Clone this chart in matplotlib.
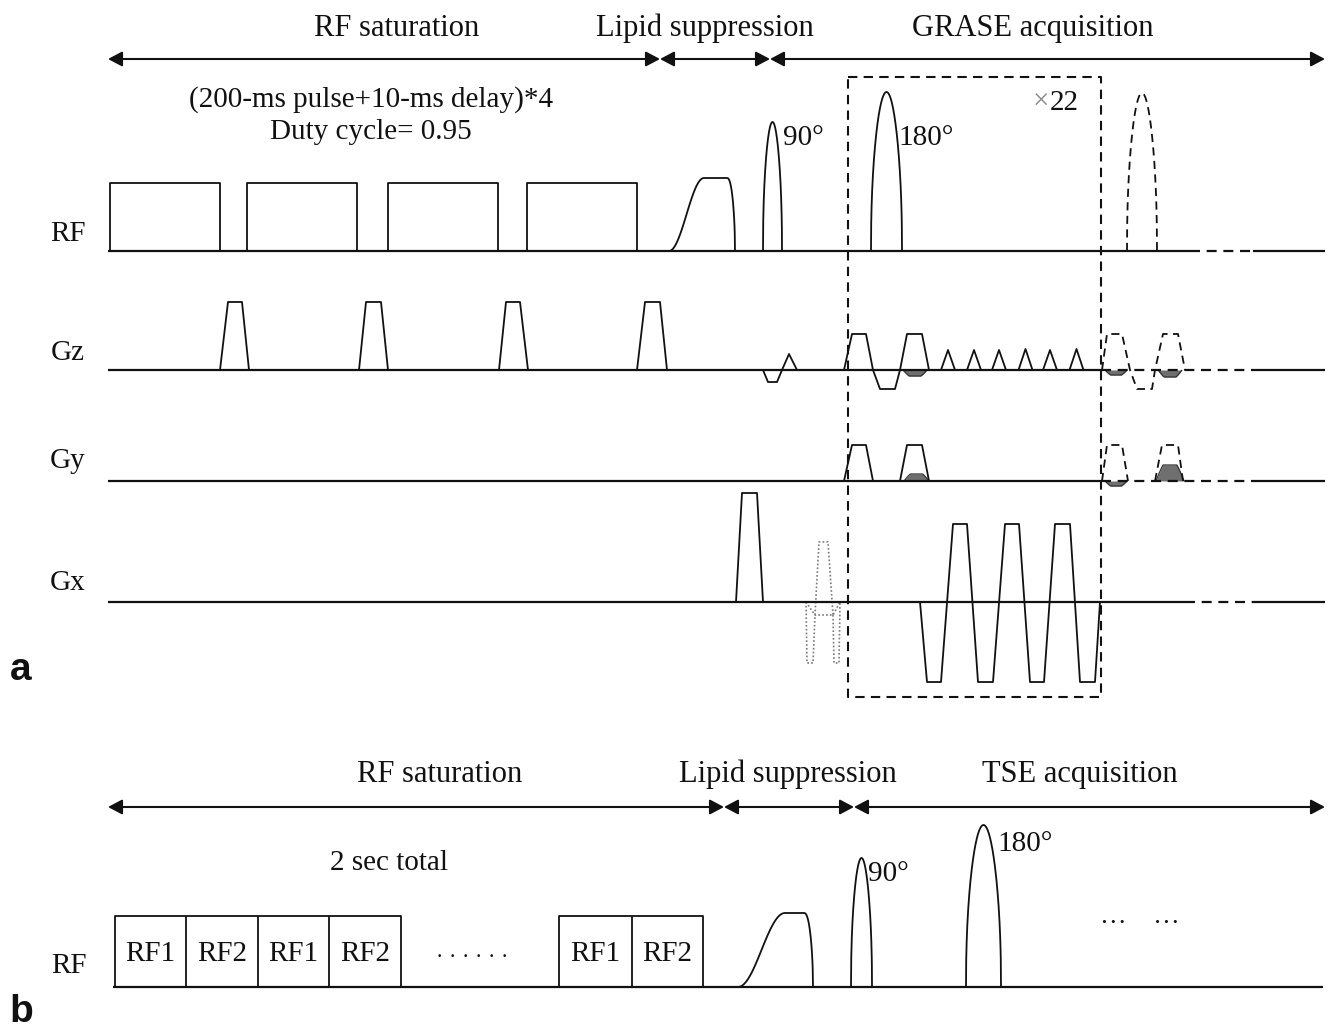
import numpy as np
import matplotlib
matplotlib.use("Agg")
import matplotlib.pyplot as plt

# ---------------- data (diagram time axis / amplitude units) ----------------
# Panel a : phases
phase_labels_a = ["RF saturation", "Lipid suppression", "GRASE acquisition"]
phase_bounds_a = [108, 660, 770, 1325]
phase_label_x_a = [397, 705, 1033]
# Panel a : RF saturation block pulses (start, end)
sat_start_a = [110, 247, 388, 527]
sat_end_a = [220, 357, 498, 637]
sat_amp_a = 68
# Panel a : Gz crushers after each saturation pulse (ramp start, flat start, flat end, ramp end)
crush_t = [[220, 228, 242, 249], [359, 366, 381, 388], [499, 506, 520, 528], [637, 645, 660, 667]]
crush_amp = 68
# Panel a : lipid suppression pulse (rise start, plateau start, plateau end, end), amplitude
lipid_a = [669, 704, 727, 735]
lipid_amp_a = 73
# Panel a : excitation / refocusing pulses (start, end, amplitude)
exc_a = [763, 782, 129]
ref_a = [871, 902, 159]
ref_dash_a = [1127, 1157, 158]
# Panel a : Gz waveforms
gz_slice_neg = [763, 768, 777, 782, 12]
gz_slice_tri = [782, 789, 797, 16]
gz_wave_t = [844, 852, 866, 873, 880, 895, 900, 907, 922, 929]
gz_wave_amp = [0, 36, 36, 0, -19, -19, 0, 36, 36, 0]
gz_dash_t = [1102, 1107, 1122, 1130, 1137, 1152, 1155, 1163, 1178, 1185]
gz_blip_center = [948, 974, 999, 1025.5, 1050, 1076.5]
gz_blip_amp = [20, 20, 20, 21, 20, 21]
# Panel a : Gy phase encode lobes
gy_t = [[844, 852, 866, 873], [900, 907, 922, 929]]
gy_dash_t = [[1102, 1107, 1122, 1128], [1155, 1162, 1178, 1183]]
gy_amp = 36
# Panel a : Gx waveforms
gx_pre = [736, 742, 757, 763, 109]
gx_read_t = [920, 927, 941, 953, 967, 978, 993, 1005, 1019, 1030, 1044, 1055, 1070, 1080, 1095, 1100]
gx_read_amp = [0, -80, -80, 78, 78, -80, -80, 78, 78, -80, -80, 78, 78, -80, -80, 0]
# Panel b
phase_labels_b = ["RF saturation", "Lipid suppression", "TSE acquisition"]
phase_bounds_b = [108, 724, 854, 1325]
phase_label_x_b = [440, 788, 1080]
rf_blocks_b = [[115, 186, 258, 329, 401], [559, 632, 703]]
rf_block_names = ["RF1", "RF2", "RF1", "RF2", "RF1", "RF2"]
rf_block_amp_b = 71
lipid_b = [738, 785, 804, 813]
lipid_amp_b = 74
exc_b = [851, 872, 129]
ref_b = [966, 1001, 162]

# ---------------- figure ----------------
fig = plt.figure(figsize=(13.34, 10.28), dpi=100)
ax = fig.add_axes([0, 0, 1, 1])
ax.set_xlim(0, 1334)
ax.set_ylim(1028, 0)
ax.axis("off")

SERIF = "Liberation Serif"
K = "#111111"
LW = 1.3
DASH = (0, (4.5, 3))
GRAY = "#6f6f6f"

RF_A, GZ, GY, GX, RF_B = 251, 370, 481, 602, 987


def pl(xs, ys, ls="-", lw=LW, color=K, z=3):
    ax.plot(xs, ys, ls=ls, lw=lw, color=color, solid_capstyle="butt", zorder=z)


def trap(t, amp, base, ls="-"):
    pl([t[0], t[1], t[2], t[3]], [base, base - amp, base - amp, base], ls=ls)


def arch(t0, t1, amp, base, ls="-"):
    s = np.linspace(0, 1, 160)
    pl(t0 + (t1 - t0) * s, base - amp * np.sin(np.pi * s) ** 0.45, ls=ls)


def lipid(t, amp, base):
    s = np.linspace(0, 1, 80)
    xr = t[0] + (t[1] - t[0]) * s
    yr = base - amp * (1 - np.cos(np.pi * s)) / 2
    sf = np.linspace(0, 1, 30)
    xf = t[2] + (t[3] - t[2]) * sf
    yf = base - amp * np.cos(np.pi / 2 * sf ** 1.2) ** 0.5
    pl(np.r_[xr, xf], np.r_[yr, yf])


def lobe(t0, t1, h, base, color=GRAY):
    s = np.linspace(0, 1, 60)
    x = t0 + (t1 - t0) * s
    y = base - h * np.clip(np.sin(np.pi * s) * 1.4, 0, 1)
    ax.fill_between(x, base, y, color=color, lw=0, zorder=2)
    pl(x, y, lw=0.9, color="#333333", z=2)


def harrow(x0, x1, y):
    ax.annotate("", xy=(x1, y), xytext=(x0, y),
                arrowprops=dict(arrowstyle="<|-|>,head_length=0.85,head_width=0.45",
                                lw=1.5, color=K, shrinkA=0, shrinkB=0, mutation_scale=10))


def txt(x, y, s, size=21, ha="center", color=K, family=SERIF, weight="normal"):
    ax.text(x, y, s, fontsize=size, ha=ha, va="baseline", color=color,
            family=family, weight=weight)


# ---------------- panel a ----------------
for lab, xc in zip(phase_labels_a, phase_label_x_a):
    txt(xc, 36, lab, size=22)
for i in range(3):
    harrow(phase_bounds_a[i], phase_bounds_a[i + 1], 59)

txt(371, 107, "(200-ms pulse+10-ms delay)*4", size=21)
txt(371, 139, "Duty cycle= 0.95", size=21)

for lab, yb in zip(["RF", "Gz", "Gy", "Gx"], [241, 360, 468, 590]):
    txt(68, yb, lab, size=21)

# baselines
for base, sol_end in [(RF_A, 1190), (GX, 1185)]:
    pl([108, sol_end], [base, base], lw=1.6)
    pl([sol_end, 1253], [base, base], ls=DASH, lw=1.6)
    pl([1253, 1325], [base, base], lw=1.6)
for base in [GZ, GY]:
    pl([108, 1101], [base, base], lw=1.6)
    pl([1101, 1253], [base, base], ls=DASH, lw=1.6)
    pl([1253, 1325], [base, base], lw=1.6)

# RF
for a, b in zip(sat_start_a, sat_end_a):
    pl([a, a, b, b], [RF_A, RF_A - sat_amp_a, RF_A - sat_amp_a, RF_A])
lipid(lipid_a, lipid_amp_a, RF_A)
arch(exc_a[0], exc_a[1], exc_a[2], RF_A)
arch(ref_a[0], ref_a[1], ref_a[2], RF_A)
arch(ref_dash_a[0], ref_dash_a[1], ref_dash_a[2], RF_A, ls=DASH)
txt(783, 145, "90°", size=21, ha="left")
txt(898, 145, "180°", size=21, ha="left")
txt(1033, 110, "×", size=21, ha="left", color="#8a8a8a")
txt(1050, 110, "22", size=21, ha="left")

# Gz
for t in crush_t:
    trap(t, crush_amp, GZ)
n = gz_slice_neg
trap([n[0], n[1], n[2], n[3]], -n[4], GZ)
tr = gz_slice_tri
pl([tr[0], tr[1], tr[2]], [GZ, GZ - tr[3], GZ])
lobe(903, 927, -6, GZ)
pl(gz_wave_t, [GZ - a for a in gz_wave_amp])
lobe(1105, 1127, -5, GZ)
lobe(1158, 1182, -7, GZ)
pl(gz_dash_t, [GZ - a for a in gz_wave_amp], ls=DASH)
for c, a in zip(gz_blip_center, gz_blip_amp):
    pl([c - 7, c, c + 7], [GZ, GZ - a, GZ])

# Gy
lobe(904, 929, 7, GY)
for t in gy_t:
    trap(t, gy_amp, GY)
lobe(1105, 1127, -5, GY)
lobe(1156, 1184, 16, GY)
for t in gy_dash_t:
    trap(t, gy_amp, GY, ls=DASH)

# Gx
trap(gx_pre[:4], gx_pre[4], GX)
pl(gx_read_t, [GX - a for a in gx_read_amp])
dot = dict(ls=(0, (1, 1.3)), lw=1.2, color="#7a7a7a")
ax.plot([815, 819, 828, 833], [615, 542, 542, 615], **dot)
ax.plot([806, 815, 833, 840], [GX, 615, 615, GX], **dot)
ax.plot([806, 807, 813, 815], [GX, 663, 663, 615], **dot)
ax.plot([833, 834, 839, 840], [615, 663, 663, GX], **dot)

# repeat box
ax.plot([848, 1101, 1101, 848, 848], [77, 77, 697, 697, 77], ls=DASH, lw=1.5, color=K)

txt(21, 680, "a", size=28, family="Liberation Sans", weight="bold")

# ---------------- panel b ----------------
for lab, xc in zip(phase_labels_b, phase_label_x_b):
    txt(xc, 782, lab, size=22)
for i in range(3):
    harrow(phase_bounds_b[i], phase_bounds_b[i + 1], 807)
txt(389, 870, "2 sec total", size=21)
txt(69, 973, "RF", size=21)

pl([113, 1323], [RF_B, RF_B], lw=1.6)
k = 0
for edges in rf_blocks_b:
    top = RF_B - rf_block_amp_b
    pl([edges[0], edges[0], edges[-1], edges[-1]], [RF_B, top, top, RF_B])
    for e in edges[1:-1]:
        pl([e, e], [RF_B, top])
    for a, b in zip(edges[:-1], edges[1:]):
        txt((a + b) / 2, 961, rf_block_names[k], size=21)
        k += 1
txt(472, 963, "· · · · · ·", size=16)
lipid(lipid_b, lipid_amp_b, RF_B)
arch(exc_b[0], exc_b[1], exc_b[2], RF_B)
arch(ref_b[0], ref_b[1], ref_b[2], RF_B)
txt(868, 881, "90°", size=21, ha="left")
txt(997, 851, "180°", size=21, ha="left")
txt(1140, 930, "···    ···", size=19)

txt(21, 1022, "b", size=28, family="Liberation Sans", weight="bold")

fig.savefig("out.png", dpi=100)
